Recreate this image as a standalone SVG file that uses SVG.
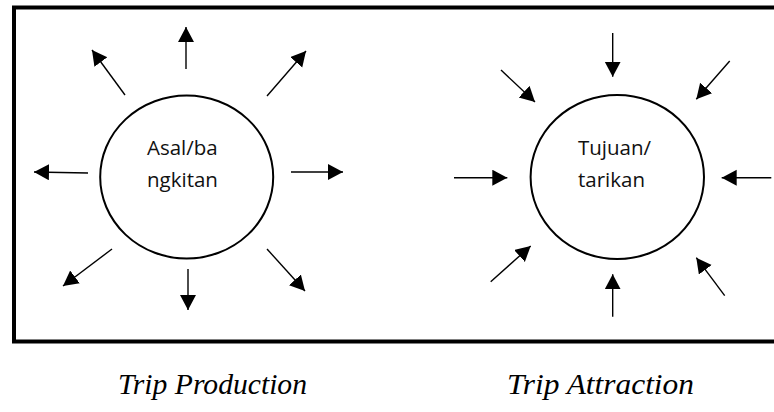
<svg xmlns="http://www.w3.org/2000/svg" width="774" height="412" viewBox="0 0 774 412">
<style>
.frame{fill:none;stroke:#000;stroke-width:4}
.node{fill:#fff;stroke:#000;stroke-width:2}
.lbl{font-family:"Open Sans","Liberation Sans",sans-serif;font-size:20.5px;fill:#111}
.cap{font-family:"Liberation Serif","Times New Roman",serif;font-style:italic;font-size:30px;fill:#000}
.arr{stroke:#000;stroke-width:1.4;fill:none;marker-end:url(#ah)}
</style>
<defs>
<marker id="ah" markerUnits="userSpaceOnUse" markerWidth="16" markerHeight="17" refX="15" refY="8" orient="auto" viewBox="0 0 16 17">
<path d="M0,0 L15,8 L0,16 z" fill="#000"/>
</marker>
</defs>
<rect class="frame" x="14" y="7.5" width="800" height="334"/>
<g id="production">
<ellipse class="node" cx="186.7" cy="177" rx="86.5" ry="81.5"/>
<text class="lbl" x="147" y="155">Asal/ba</text>
<text class="lbl" x="147" y="187">ngkitan</text>
</g>
<g id="attraction">
<ellipse class="node" cx="617.3" cy="177" rx="86.7" ry="82"/>
<text class="lbl" x="578" y="155">Tujuan/</text>
<text class="lbl" x="578" y="187">tarikan</text>
</g>
<g id="connectors">
<line class="arr" x1="186" y1="69" x2="186" y2="27"/>
<line class="arr" x1="125" y1="95" x2="92" y2="50"/>
<line class="arr" x1="267" y1="96" x2="306" y2="51"/>
<line class="arr" x1="88" y1="173" x2="34" y2="172"/>
<line class="arr" x1="291" y1="172" x2="343" y2="172"/>
<line class="arr" x1="112" y1="249" x2="63" y2="286"/>
<line class="arr" x1="188" y1="269" x2="188" y2="310"/>
<line class="arr" x1="267" y1="249" x2="305" y2="291"/>
<line class="arr" x1="612.7" y1="33" x2="612.7" y2="76.7"/>
<line class="arr" x1="501" y1="70" x2="535" y2="102"/>
<line class="arr" x1="729.7" y1="61" x2="696.3" y2="99.3"/>
<line class="arr" x1="454" y1="177.7" x2="507.3" y2="177.7"/>
<line class="arr" x1="771.3" y1="177.7" x2="721.7" y2="177.7"/>
<line class="arr" x1="490.7" y1="281.7" x2="530.7" y2="246"/>
<line class="arr" x1="612.7" y1="316.7" x2="612.7" y2="274.3"/>
<line class="arr" x1="724.7" y1="295.7" x2="696.3" y2="257.7"/>
</g>
<g id="captions">
<text class="cap" x="118" y="394" textLength="189" lengthAdjust="spacingAndGlyphs">Trip Production</text>
<text class="cap" x="507" y="394" textLength="187" lengthAdjust="spacingAndGlyphs">Trip Attraction</text>
</g>
</svg>
